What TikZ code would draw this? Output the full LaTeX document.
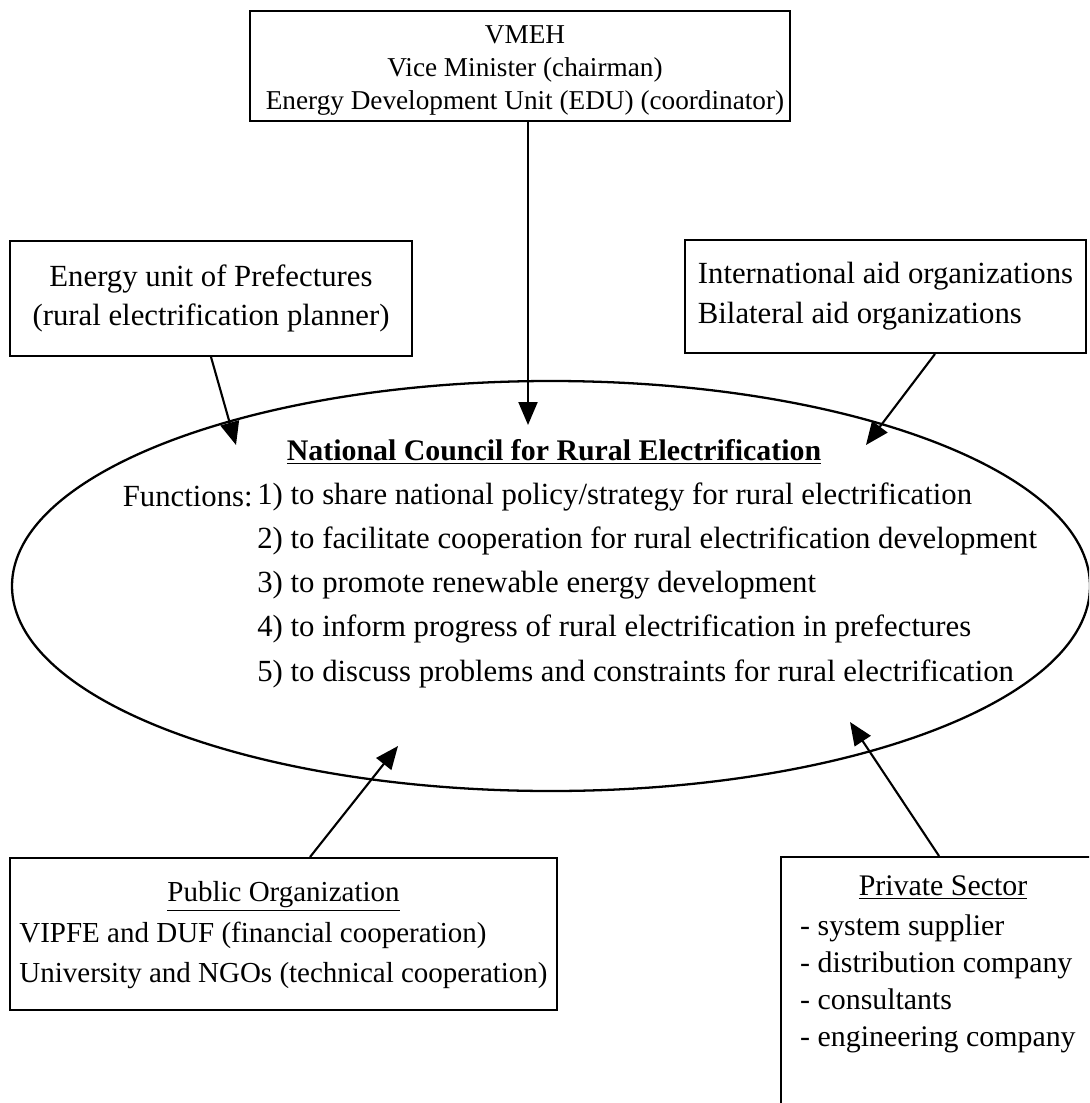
\documentclass[tikz,border=0pt]{standalone}
\usepackage{fontspec}
\setmainfont{Liberation Serif}
\usetikzlibrary{arrows.meta,shapes.geometric,calc}

\begin{document}
\begin{tikzpicture}[
    box/.style={draw, line width=1.1pt, inner sep=0pt},
    txt/.style={font=\fontsize{17.5}{22.7}\selectfont},
    fntxt/.style={font=\fontsize{17.5}{22}\selectfont, anchor=west, inner sep=0pt},
    arrow/.style={line width=1.2pt, -{Triangle[length=0.46cm, width=0.38cm]}},
  ]
  \useasboundingbox (0,0) rectangle (21.78,-22.06);
  \clip (0,0) rectangle (21.78,-22.06);

  % boxes
  \node[box, minimum width=10.8cm, minimum height=2.2cm] (vmeh) at (10.40,-1.32) {};
  \node[align=center, font=\fontsize{15.5}{18.8}\selectfont] (vmehtext) at (10.5,-1.41)
    {VMEH\\Vice Minister (chairman)\\Energy Development Unit (EDU) (coordinator)};
  \node[box, txt, minimum width=8.04cm, minimum height=2.30cm, align=center] (pref) at (4.22,-5.97)
    {Energy unit of Prefectures\\(rural electrification planner)};
  \node[box, txt, minimum width=8.02cm, minimum height=2.26cm, align=left] (aid) at (17.71,-5.93)
    {International aid organizations\\Bilateral aid organizations};
  \node[box, minimum width=10.94cm, minimum height=3.04cm, font=\fontsize{16.5}{23}\selectfont] (pub) at (5.67,-18.68)
    {\begin{tabular}{@{}l@{}}
       \multicolumn{1}{@{}c@{}}{\underline{Public Organization}}\\
       VIPFE and DUF (financial cooperation)\\
       University and NGOs (technical cooperation)
     \end{tabular}};
  \node[box, minimum width=6.38cm, minimum height=5.06cm] (priv) at (18.81,-19.67) {};
  \node[font=\fontsize{17}{21}\selectfont] (privtitle) at (18.86,-17.76) {\underline{Private Sector}};
  \node[anchor=west, align=left, font=\fontsize{17}{21}\selectfont] (privlist) at (15.88,-19.67)
    {- system supplier\\- distribution company\\- consultants\\- engineering company};

  % council
  \node[draw, ellipse, line width=1.3pt, minimum width=21.56cm, minimum height=8.2cm] (ncre) at (11.02,-11.72) {};
  \node[font=\fontsize{17}{22}\bfseries] (ncretitle) at (11.08,-9.04) {\underline{National Council for Rural Electrification}};
  \node[fntxt, anchor=east] (fn) at (5.06,-9.94) {Functions:};
  \node[fntxt] (fn1) at (5.14,-9.94) {1) to share national policy/strategy for rural electrification};
  \node[fntxt] (fn2) at (5.14,-10.82) {2) to facilitate cooperation for rural electrification development};
  \node[fntxt] (fn3) at (5.14,-11.70) {3) to promote renewable energy development};
  \node[fntxt] (fn4) at (5.14,-12.58) {4) to inform progress of rural electrification in prefectures};
  \node[fntxt] (fn5) at (5.14,-13.48) {5) to discuss problems and constraints for rural electrification};

  % arrow ends inside the ellipse
  \coordinate (tipvmeh) at (10.56,-8.5);
  \coordinate (tippref) at (4.72,-8.9);
  \coordinate (tipaid) at (17.32,-8.9);
  \coordinate (tippub) at (7.96,-14.92);
  \coordinate (tippriv) at (17.0,-14.44);

  \draw[arrow] ($(vmeh.south)+(0.16,0)$) -- (tipvmeh);
  \draw[arrow] (pref.south) -- (tippref);
  \draw[arrow] ($(aid.south)+(0.99,0)$) -- (tipaid);
  \draw[arrow] ($(pub.north)+(0.53,0)$) -- (tippub);
  \draw[arrow] ($(priv.north west)+(3.18,0)$) -- (tippriv);
\end{tikzpicture}
\end{document}
